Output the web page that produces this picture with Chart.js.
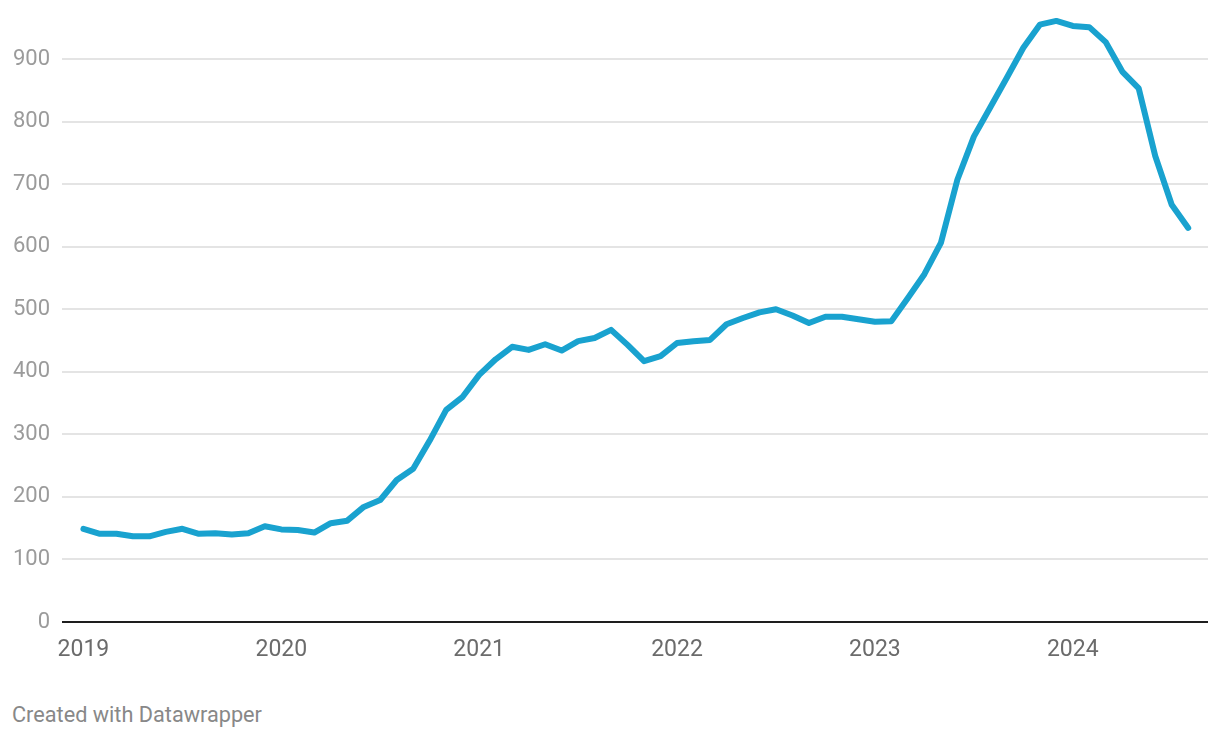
<!DOCTYPE html>
<html lang="en">
<head>
<meta charset="UTF-8">
<title>Line chart</title>
<script src="https://cdn.jsdelivr.net/npm/chart.js"></script>
<style>
  html, body { margin: 0; padding: 0; background: #fff; }
  body { width: 1220px; height: 738px; position: relative; overflow: hidden; font-family: Roboto, sans-serif; }
  #wrap { position: absolute; left: 0; top: 0; width: 1220px; height: 680px; }
  .footer { position: absolute; left: 12px; top: 702px; font-size: 21.7px; color: #888; }
</style>
</head>
<body>
<div id="wrap"><canvas id="chart"></canvas></div>
<div class="footer">Created with Datawrapper</div>
<script>
// monthly values, Jan 2019 - Aug 2024
const values = [
  149, 141, 141, 137, 137, 144, 149, 141, 142, 140, 142, 153,
  148, 147, 143, 158, 162, 184, 195, 227, 245, 290, 339, 360,
  395, 420, 440, 435, 444, 434, 449, 454, 467, 443, 417, 425,
  446, 449, 451, 476, 486, 495, 500, 490, 478, 488, 488, 484,
  480, 481, 518, 556, 606, 707, 776, 823, 870, 918, 955, 961,
  953, 951, 927, 880, 853, 745, 667, 630
];
const yearLabels = ['2019', '2020', '2021', '2022', '2023', '2024'];
const yearStart = [0, 12, 24, 36, 48, 60];
const yTicks = [0, 100, 200, 300, 400, 500, 600, 700, 800, 900];

const points = values.map((v, i) => ({ x: i, y: v }));

new Chart(document.getElementById('chart'), {
  type: 'line',
  data: {
    datasets: [{
      data: points,
      borderColor: '#19a2cf',
      borderWidth: 6,
      borderCapStyle: 'round',
      borderJoinStyle: 'round',
      pointRadius: 0,
      tension: 0,
      fill: false,
      clip: false
    }]
  },
  options: {
    responsive: true,
    maintainAspectRatio: false,
    animation: false,
    layout: { padding: { top: 9, right: 12, left: 0, bottom: 0 } },
    plugins: { legend: { display: false }, tooltip: { enabled: false } },
    scales: {
      x: {
        type: 'linear',
        min: -1.3,
        max: 68.2,
        border: { display: false },
        grid: { display: false },
        afterBuildTicks: s => { s.ticks = yearStart.map(v => ({ value: v })); },
        afterFit: s => { s.height = 58; s.paddingLeft = 0; s.paddingRight = 0; },
        ticks: {
          autoSkip: false,
          maxRotation: 0,
          padding: 6,
          color: '#6b6b6b',
          font: { family: 'Roboto', size: 23 },
          callback: v => yearLabels[yearStart.indexOf(v)]
        }
      },
      y: {
        min: 0,
        max: 980,
        border: { display: false },
        afterBuildTicks: s => { s.ticks = yTicks.map(v => ({ value: v })); },
        afterFit: s => { s.width = 62; s.paddingTop = 0; s.paddingBottom = 0; },
        grid: {
          drawTicks: false,
          lineWidth: 2,
          color: c => c.tick && c.tick.value === 0 ? '#1e1e1e' : '#e4e4e4'
        },
        ticks: {
          padding: 12,
          color: '#9b9b9b',
          font: { family: 'Roboto', size: 22 }
        }
      }
    }
  }
});
</script>
</body>
</html>
